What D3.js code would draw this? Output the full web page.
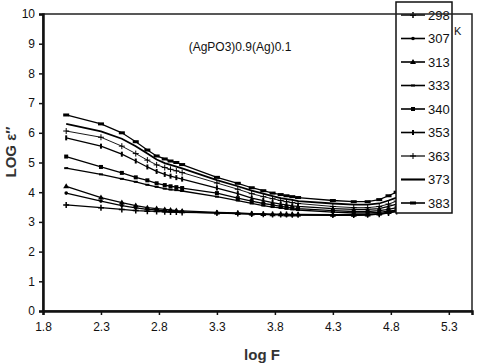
<!DOCTYPE html>
<html>
<head>
<meta charset="utf-8">
<script src="https://cdn.jsdelivr.net/npm/d3@7"></script>
<style>
  body { margin: 0; background: #fff; }
  svg { display: block; }
</style>
</head>
<body>
<div id="chart"></div>
<script>
(function () {

    // log F values where each series was measured
    var logF = [2.0, 2.3, 2.48, 2.6, 2.7, 2.78, 2.85, 2.9, 2.95, 3.0,
                3.3, 3.48, 3.6, 3.7, 3.78, 3.85, 3.9, 3.95, 4.0,
                4.3, 4.48, 4.6, 4.7, 4.78, 4.85];

    // temperatures (K), one series each
    var temps = ["298", "307", "313", "333", "340", "353", "363", "373", "383"];

    // log eps''
    var s298 = [3.57, 3.48, 3.42, 3.38, 3.36, 3.35, 3.34, 3.33, 3.33, 3.32, 3.3, 3.28, 3.27, 3.26, 3.25, 3.25, 3.25, 3.24, 3.24, 3.23, 3.23, 3.24, 3.26, 3.3, 3.35];
    var s307 = [3.97, 3.7, 3.55, 3.47, 3.42, 3.4, 3.37, 3.36, 3.35, 3.34, 3.3, 3.28, 3.26, 3.25, 3.24, 3.24, 3.23, 3.23, 3.23, 3.22, 3.22, 3.23, 3.26, 3.3, 3.36];
    var s313 = [4.2, 3.82, 3.65, 3.55, 3.48, 3.45, 3.42, 3.4, 3.38, 3.37, 3.32, 3.3, 3.28, 3.27, 3.26, 3.26, 3.25, 3.25, 3.25, 3.24, 3.24, 3.25, 3.28, 3.33, 3.4];
    var s333 = [4.81, 4.6, 4.45, 4.35, 4.25, 4.18, 4.12, 4.09, 4.07, 4.04, 3.85, 3.72, 3.62, 3.55, 3.5, 3.47, 3.44, 3.42, 3.4, 3.33, 3.3, 3.3, 3.32, 3.36, 3.4];
    var s340 = [5.2, 4.85, 4.65, 4.5, 4.4, 4.3, 4.24, 4.2, 4.17, 4.14, 3.97, 3.8, 3.7, 3.62, 3.57, 3.52, 3.5, 3.47, 3.45, 3.38, 3.35, 3.35, 3.38, 3.42, 3.48];
    var s353 = [5.83, 5.55, 5.28, 5.05, 4.85, 4.7, 4.6, 4.54, 4.49, 4.44, 4.14, 3.95, 3.8, 3.72, 3.65, 3.6, 3.57, 3.54, 3.52, 3.45, 3.42, 3.42, 3.45, 3.52, 3.6];
    var s363 = [6.06, 5.85, 5.55, 5.3, 5.08, 4.92, 4.83, 4.77, 4.72, 4.66, 4.31, 4.1, 3.95, 3.85, 3.78, 3.72, 3.68, 3.65, 3.62, 3.52, 3.48, 3.48, 3.52, 3.6, 3.7];
    var s373 = [6.3, 6.05, 5.8, 5.55, 5.3, 5.1, 4.98, 4.92, 4.86, 4.8, 4.41, 4.2, 4.05, 3.95, 3.87, 3.8, 3.77, 3.74, 3.7, 3.62, 3.58, 3.58, 3.62, 3.72, 3.82];
    var s383 = [6.6, 6.3, 6.0, 5.7, 5.42, 5.22, 5.12, 5.05, 5.0, 4.93, 4.5, 4.3, 4.15, 4.05, 3.97, 3.92, 3.88, 3.85, 3.82, 3.72, 3.68, 3.68, 3.75, 3.88, 4.0];

    var values = [s298, s307, s313, s333, s340, s353, s363, s373, s383];

    // tick labels
    var xTicks = [1.8, 2.3, 2.8, 3.3, 3.8, 4.3, 4.8, 5.3];
    var yTicks = [0, 1, 2, 3, 4, 5, 6, 7, 8, 9, 10];

    var title = "(AgPO3)0.9(Ag)0.1";

    // marker style per series (same order as temps)
    var markers = ["plus", "dot", "tri", "hdash", "square", "vdash", "thinplus", "none", "bar"];
    var widths = [1.2, 1.3, 1.3, 1.3, 1.3, 1.3, 0.9, 1.8, 1.3];

    var W = 480, H = 364;
    var m = { left: 43, top: 14, right: 472, bottom: 311 };

    var svg = d3.select("#chart").append("svg")
        .attr("width", W)
        .attr("height", H);

    var x = d3.scaleLinear().domain([1.8, 5.5]).range([m.left, m.right]);
    var y = d3.scaleLinear().domain([0, 10]).range([m.bottom, m.top]);

    var tickFont = "'Liberation Sans', Arial, sans-serif";

    // axis titles
    svg.append("text")
        .attr("x", 262).attr("y", 360)
        .attr("text-anchor", "middle")
        .attr("font-family", tickFont)
        .attr("font-weight", "bold").attr("font-size", 15)
        .attr("fill", "#333")
        .text("log F");

    svg.append("text")
        .attr("transform", "translate(16,152) rotate(-90)")
        .attr("text-anchor", "middle")
        .attr("font-family", tickFont)
        .attr("font-weight", "bold").attr("font-size", 15)
        .attr("fill", "#333")
        .text("LOG \u03b5\u2033");

    // title inside plot
    svg.append("text")
        .attr("x", 240).attr("y", 51)
        .attr("text-anchor", "middle")
        .attr("font-family", tickFont)
        .attr("font-size", 12)
        .attr("fill", "#111")
        .text(title);

    svg.append("text")
        .attr("x", 454).attr("y", 35)
        .attr("font-family", tickFont)
        .attr("font-size", 11)
        .attr("fill", "#111")
        .text("K");

    var line = d3.line()
        .x(function (d) { return x(d[0]); })
        .y(function (d) { return y(d[1]); });

    function drawMarker(g, type, cx, cy) {
        if (type === "none") return;
        if (type === "plus" || type === "thinplus") {
            var sw = type === "plus" ? 1.5 : 1;
            g.append("path").attr("d", "M" + (cx - 3) + "," + cy + "H" + (cx + 3) + "M" + cx + "," + (cy - 3) + "V" + (cy + 3))
                .attr("stroke", "#000").attr("stroke-width", sw).attr("fill", "none");
        } else if (type === "dot") {
            g.append("circle").attr("cx", cx).attr("cy", cy).attr("r", 1.8).attr("fill", "#000");
        } else if (type === "tri") {
            g.append("path").attr("d", "M" + cx + "," + (cy - 3) + "L" + (cx + 3) + "," + (cy + 2) + "L" + (cx - 3) + "," + (cy + 2) + "Z")
                .attr("fill", "#000");
        } else if (type === "hdash") {
            g.append("rect").attr("x", cx - 2).attr("y", cy - 1).attr("width", 4).attr("height", 2).attr("fill", "#000");
        } else if (type === "square") {
            g.append("rect").attr("x", cx - 2).attr("y", cy - 2).attr("width", 4).attr("height", 4).attr("fill", "#000");
        } else if (type === "vdash") {
            g.append("rect").attr("x", cx - 1).attr("y", cy - 2.5).attr("width", 2).attr("height", 5).attr("fill", "#000");
        } else if (type === "bar") {
            g.append("rect").attr("x", cx - 3).attr("y", cy - 1.5).attr("width", 6).attr("height", 3).attr("fill", "#000");
        }
    }

    // series
    var plot = svg.append("g");
    values.forEach(function (vals, i) {
        var pts = logF.map(function (f, j) { return [f, vals[j]]; });
        var g = plot.append("g");
        g.append("path")
            .datum(pts)
            .attr("d", line)
            .attr("fill", "none")
            .attr("stroke", "#000")
            .attr("stroke-width", widths[i]);
        pts.forEach(function (p) {
            drawMarker(g, markers[i], x(p[0]), y(p[1]));
        });
    });

    // legend (sits over the curves, under the frame)
    var legend = svg.append("g");
    legend.append("rect")
        .attr("x", 396).attr("y", 2)
        .attr("width", 56).attr("height", 211)
        .attr("fill", "#fff").attr("stroke", "#111").attr("stroke-width", 1.5);

    temps.forEach(function (t, i) {
        var ly = 15 + i * 23.5;
        var lg = legend.append("g");
        lg.append("line")
            .attr("x1", 401).attr("x2", 425).attr("y1", ly).attr("y2", ly)
            .attr("stroke", "#000").attr("stroke-width", widths[i] + 0.3);
        drawMarker(lg, markers[i], 413, ly);
        lg.append("text")
            .attr("x", 428).attr("y", ly + 4.5)
            .attr("font-family", tickFont)
            .attr("font-size", 13)
            .attr("fill", "#111")
            .text(t);
    });

    // plot frame, drawn last so its top edge runs through the legend
    svg.append("rect")
        .attr("x", m.left).attr("y", m.top)
        .attr("width", m.right - m.left).attr("height", m.bottom - m.top)
        .attr("fill", "none").attr("stroke", "#222").attr("stroke-width", 1.5);

    // axes
    var xAxis = svg.append("g")
        .attr("transform", "translate(0," + m.bottom + ")")
        .call(d3.axisBottom(x).tickValues(xTicks).tickSizeOuter(0).tickSize(4)
              .tickFormat(function (d) { return d.toFixed(1); }));
    var yAxis = svg.append("g")
        .attr("transform", "translate(" + m.left + ",0)")
        .call(d3.axisLeft(y).tickValues(yTicks).tickSizeOuter(0).tickSize(4));

    [xAxis, yAxis].forEach(function (g) {
        g.select(".domain").attr("stroke", "#111").attr("stroke-width", 2.5);
        g.selectAll(".tick line").attr("stroke", "#111").attr("stroke-width", 1.5);
        g.selectAll(".tick text")
            .attr("font-family", tickFont)
            .attr("font-size", 12)
            .attr("fill", "#111");
    });
    xAxis.selectAll(".tick text").attr("dy", "1.1em");
    yAxis.selectAll(".tick text").attr("x", -8);

})();
</script>
</body>
</html>
